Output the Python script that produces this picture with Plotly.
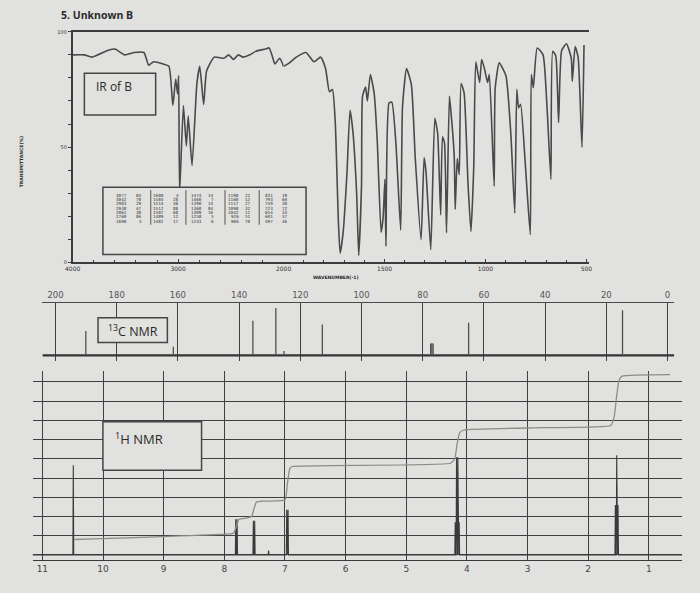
import plotly.graph_objects as go

# ---------------- data ----------------
# IR spectrum (wavenumber cm-1, %transmittance)
ir_wn = [4000, 3890, 3817, 3662, 3598, 3507, 3416, 3324, 3279, 3233, 3142, 3087, 3050, 3023,
         3005, 2995, 2986, 2950, 2922, 2904, 2868, 2822, 2795, 2758, 2730, 2658, 2566, 2521,
         2475, 2430, 2384, 2320, 2265, 2174, 2137, 2091, 2082, 2037, 2000, 1971, 1937, 1889,
         1850, 1816, 1792, 1773, 1758, 1744, 1729, 1720, 1705, 1686, 1671, 1657, 1638, 1628,
         1614, 1609, 1594, 1585, 1570, 1551, 1536, 1517, 1507, 1498, 1493, 1478, 1464, 1444,
         1420, 1411, 1391, 1367, 1348, 1319, 1304, 1295, 1271, 1251, 1237, 1222, 1213, 1203,
         1193, 1179, 1174, 1155, 1150, 1140, 1130, 1121, 1106, 1087, 1072, 1058, 1048, 1029,
         1019, 1005, 990, 981, 957, 952, 932, 899, 874, 855, 845, 836, 826, 802, 778, 773,
         763, 744, 715, 696, 676, 667, 652, 638, 623, 599, 575, 570, 556, 541, 522, 512]
ir_t = [90, 90, 89, 92, 92.5, 90, 91, 91, 85.5, 87, 86, 85, 68, 79.5,
        73, 81, 30, 68, 50.5, 63.5, 42, 77.5, 85, 68.5, 83, 89, 88.5, 90,
        88, 90, 89, 90, 91.5, 92.5, 93, 87, 86, 88.5, 85, 86.5, 89, 91,
        87, 89, 84, 74, 75, 60.5, 18.7, 4, 13, 39, 66, 57, 29.5, 3,
        33.5, 72, 76, 70, 81.5, 73, 52.5, 13, 19.5, 36, 7, 69, 69.5, 52,
        14, 67.5, 84, 77, 45.5, 9.8, 45.5, 39.7, 5.5, 62.5, 56, 20.6, 54.5, 51.8,
        12.8, 72, 68, 46.4, 23, 45, 38, 77.5, 73.5, 35, 13.4, 42, 87, 78,
        88, 84, 78, 81.5, 33, 75.5, 86.5, 81, 55, 21.3, 75, 67, 68.5, 41.5, 12, 81.5,
        75.7, 93, 90, 68.5, 36, 91.5, 89.6, 60.6, 91.8, 94.8, 88.5, 78.5, 93.6, 88.8, 49.9, 94.3]

ir_labels_left = [4000, 3000, 2000]
ir_labels_right = [1500, 1000, 500]
ir_t_labels = [0, 50, 100]

# IR peak table (wavenumber, %T), five columns
ir_table_wn = [[3077, 3042, 2983, 2938, 2861, 2760, 1690],
               [1600, 1584, 1514, 1512, 1507, 1489, 1482],
               [1474, 1460, 1390, 1368, 1309, 1258, 1243],
               [1190, 1160, 1117, 1098, 1042, 926, 906],
               [831, 793, 759, 723, 654, 601, 497]]
ir_table_t = [[84, 70, 29, 47, 38, 86, 5],
              [4, 28, 48, 88, 68, 12, 17],
              [14, 7, 14, 84, 16, 5, 6],
              [22, 12, 27, 32, 12, 51, 70],
              [19, 60, 30, 72, 33, 57, 46]]

# 13C NMR peaks (ppm, relative height)
c_ppm = [190.1, 161.5, 135.5, 128.0, 125.3, 112.8, 77.4, 77.0, 76.6, 65.0, 14.7]
c_height = [24.6, 8.7, 35.0, 47.8, 4.5, 31.3, 12.0, 12.3, 12.0, 33.0, 45.5]

# 1H NMR peaks (ppm, height, multiplicity)
h_ppm = [10.49, 7.80, 7.51, 7.27, 6.96, 4.16, 1.53]
h_height = [4.66, 1.85, 1.78, 0.23, 2.35, 5.08, 5.18]
h_mult = [1, 2, 2, 1, 2, 4, 3]

# 1H integral curve (ppm, level)
int_ppm = [10.47, 7.87, 7.84, 7.80, 7.76, 7.62, 7.55, 7.51, 7.47, 7.35, 7.00, 6.96, 6.92,
           6.88, 4.27, 4.20, 4.16, 4.12, 4.05, 2.75, 1.63, 1.57, 1.53, 1.49, 1.44, 0.65]
int_val = [0.80, 1.11, 1.15, 1.50, 1.85, 1.92, 2.00, 2.40, 2.75, 2.80, 2.85, 3.70, 4.50,
           4.60, 4.77, 5.00, 5.80, 6.35, 6.50, 6.62, 6.73, 7.20, 8.30, 9.10, 9.30, 9.38]

# ---------------- helpers ----------------
# the page body keeps an 8px margin, so the figure is 16px smaller than the window
OFF = 8
FW, FH = 700 - 2 * OFF, 593 - 2 * OFF
def px(x):
    return (x - OFF) / FW
def py(y):
    return 1 - (y - OFF) / FH

PAPER = "#e1e1df"
INK = "#3c3c3c"
SPEC = "#4a4a4a"

fig = go.Figure()

# IR (split into two linear scales at 2000 cm-1)
left = [(w, t) for w, t in zip(ir_wn, ir_t) if w >= 2000]
right = [(w, t) for w, t in zip(ir_wn, ir_t) if w <= 2000]
fig.add_trace(go.Scatter(x=[p[0] for p in left], y=[p[1] for p in left], xaxis="x", yaxis="y",
                         mode="lines", line=dict(color=SPEC, width=1.6, shape="spline", smoothing=0.5),
                         hoverinfo="skip"))
fig.add_trace(go.Scatter(x=[p[0] for p in right], y=[p[1] for p in right], xaxis="x2", yaxis="y",
                         mode="lines", line=dict(color=SPEC, width=1.6, shape="spline", smoothing=0.5),
                         hoverinfo="skip"))

# 13C NMR
c_range = [204.3, -2.2]
fig.add_trace(go.Scatter(x=c_range, y=[0, 0], xaxis="x3", yaxis="y2", mode="lines",
                         line=dict(color="#333333", width=2.4), hoverinfo="skip"))
cx, cy = [], []
for p, h in zip(c_ppm, c_height):
    cx += [p, p, None]
    cy += [0, h, None]
fig.add_trace(go.Scatter(x=cx, y=cy, xaxis="x3", yaxis="y2", mode="lines",
                         line=dict(color="#505050", width=1.3), hoverinfo="skip"))

# 1H NMR
h_range = [11.161, 0.4525]
pascal = {1: [1], 2: [1, 1], 3: [1, 2, 1], 4: [1, 3, 3, 1]}
J = 0.022
dw = 0.007
hx, hy = [h_range[0]], [0]
for c, h, m in zip(h_ppm, h_height, h_mult):
    pat = pascal[m]
    mx = max(pat)
    for i, r in enumerate(pat):
        pos = c + (len(pat) - 1) / 2 * J - i * J
        hx += [pos + dw, pos, pos - dw]
        hy += [0, h * r / mx, 0]
hx.append(h_range[1])
hy.append(0)
fig.add_trace(go.Scatter(x=hx, y=hy, xaxis="x4", yaxis="y3", mode="lines",
                         line=dict(color="#3a3a3a", width=1.1), hoverinfo="skip"))
fig.add_trace(go.Scatter(x=int_ppm, y=int_val, xaxis="x4", yaxis="y3", mode="lines",
                         line=dict(color="#8c8c8a", width=1.3, shape="spline", smoothing=0.4),
                         hoverinfo="skip"))

# ---------------- axes ----------------
ir_font = dict(family="DejaVu Sans", size=6, color="#333333")
fig.update_layout(
    width=FW, height=FH, margin=dict(l=0, r=0, t=0, b=0),
    paper_bgcolor=PAPER, plot_bgcolor=PAPER, showlegend=False,
    xaxis=dict(domain=[px(66), px(282)], range=[4000, 2000], anchor="y",
               tickmode="array", tickvals=ir_labels_left,
               ticktext=[str(v) for v in ir_labels_left],
               ticks="inside", ticklen=4, tickcolor=INK,
               minor=dict(tickmode="array", tickvals=list(range(3800, 2000, -200)),
                          ticks="inside", ticklen=3, tickcolor=INK),
               showline=True, linecolor=INK,
               linewidth=1.5, mirror=True, showgrid=False, zeroline=False, tickfont=ir_font),
    xaxis2=dict(domain=[px(282), px(595)], range=[2000, 486], anchor="y",
                tickmode="array", tickvals=ir_labels_right,
                ticktext=[str(v) for v in ir_labels_right],
                ticks="inside", ticklen=4, tickcolor=INK,
                minor=dict(tickmode="array", tickvals=list(range(1900, 499, -100)),
                           ticks="inside", ticklen=3, tickcolor=INK),
                showline=True, linecolor=INK,
                linewidth=1.5, mirror=True, showgrid=False, zeroline=False, tickfont=ir_font),
    yaxis=dict(domain=[py(262), py(29)], range=[0, 100], anchor="x",
               tickmode="array", tickvals=ir_t_labels,
               ticktext=[str(v) for v in ir_t_labels],
               ticks="outside", ticklen=3, tickcolor=INK,
               minor=dict(tickmode="array", tickvals=list(range(10, 100, 10)),
                          ticks="outside", ticklen=3, tickcolor=INK),
               showline=True, linecolor=INK,
               linewidth=1.5, showgrid=False, zeroline=False,
               tickfont=dict(family="DejaVu Sans", size=5, color="#333333")),
    xaxis3=dict(domain=[px(35), px(682)], range=c_range, anchor="y2", side="top",
                tickmode="array", tickvals=list(range(0, 201, 20)), ticks="",
                showline=True, linecolor="#4a4a4a", linewidth=1.3,
                showgrid=True, gridcolor="#404040", gridwidth=1, zeroline=False,
                tickfont=dict(family="DejaVu Sans", size=8.5, color="#555555")),
    yaxis2=dict(domain=[py(362), py(303)], range=[-6, 53], anchor="x3", visible=False),
    xaxis4=dict(domain=[px(25), px(690)], range=h_range, anchor="y3",
                tickmode="array", tickvals=list(range(1, 12)), ticks="",
                showline=True, linecolor="#3a3a3a", linewidth=1.2,
                showgrid=True, gridcolor="#404040", gridwidth=1, zeroline=False,
                tickfont=dict(family="DejaVu Sans", size=9, color="#444444")),
    yaxis3=dict(domain=[py(563), py(372)], range=[-0.28, 9.56], anchor="x4",
                tickmode="array", tickvals=list(range(0, 10)), ticks="",
                showticklabels=False, showgrid=True, gridcolor="#404040", gridwidth=1,
                zeroline=False, showline=False),
)

# ---------------- boxes & labels ----------------
shapes = []
def box(x0, y0, x1, y1, w=1.5):
    shapes.append(dict(type="rect", xref="paper", yref="paper", x0=px(x0), x1=px(x1),
                       y0=py(y1), y1=py(y0), line=dict(color="#454545", width=w),
                       fillcolor=PAPER, layer="above"))
box(78, 71, 151, 113)
box(97, 186, 305, 254)
box(92, 318, 163, 343)
box(97, 423, 198, 472)
for sx in [146, 182, 222, 257]:
    shapes.append(dict(type="line", xref="paper", yref="paper", x0=px(sx), x1=px(sx),
                       y0=py(224), y1=py(189), line=dict(color="#555555", width=1),
                       layer="above"))

ann = []
def text(x, y, s, size, xanchor="left", angle=0, color="#2a2a2a", family="Open Sans",
         yanchor="middle"):
    ann.append(dict(xref="paper", yref="paper", x=px(x), y=py(y), text=s, showarrow=False,
                    xanchor=xanchor, yanchor=yanchor, textangle=angle,
                    font=dict(size=size, color=color, family=family)))

text(52, 12, "<b>5. Unknown B</b>", 10.5)
text(88, 84, "IR of B", 12)
text(100, 331, "<sup>13</sup>C NMR", 12.5)
text(107, 440, "<sup>1</sup>H NMR", 13)
text(310, 277, "<b>WAVENUMBER(-1)</b>", 4.5, family="DejaVu Sans")
text(14, 160, "<b>TRANSMITTANCE(%)</b>", 4.5, xanchor="center", angle=-90, family="DejaVu Sans")

col_wn_x = [124, 162, 200, 238, 273]
col_t_x = [139, 177, 213, 251, 289]
for c in range(5):
    for r in range(7):
        yy = 194 + 4.4 * r
        ann.append(dict(xref="paper", yref="paper", x=px(col_wn_x[c]), y=py(yy),
                        text=str(ir_table_wn[c][r]), showarrow=False, xanchor="right",
                        yanchor="middle", font=dict(size=4.3, color="#333333",
                                                    family="DejaVu Sans Mono")))
        ann.append(dict(xref="paper", yref="paper", x=px(col_t_x[c]), y=py(yy),
                        text=str(ir_table_t[c][r]), showarrow=False, xanchor="right",
                        yanchor="middle", font=dict(size=4.3, color="#333333",
                                                    family="DejaVu Sans Mono")))

fig.update_layout(shapes=shapes, annotations=ann)

fig.write_html("out.html", config={"displayModeBar": False},
               post_script="document.body.style.background='" + PAPER + "';"
                           "document.documentElement.style.background='" + PAPER + "';")
